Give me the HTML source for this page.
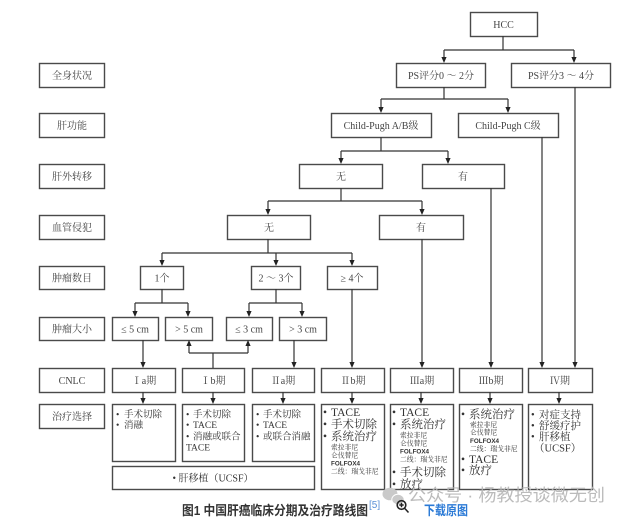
<!DOCTYPE html>
<html><head><meta charset="utf-8"><style>
html,body{margin:0;padding:0;background:#fff;}
svg{display:block;}
.n{font-family:"Liberation Serif","Noto Serif CJK SC",serif;font-size:10px;fill:#444;text-anchor:middle;}
.t{font-family:"Liberation Serif","Noto Serif CJK SC",serif;fill:#333;}
.s{font-family:"Liberation Serif","Noto Serif CJK SC",serif;font-size:6.8px;fill:#333;}
.f{font-family:"Liberation Sans",sans-serif;font-size:6.3px;font-weight:bold;fill:#333;}
</style></head><body>
<svg width="626" height="518" viewBox="0 0 626 518" xmlns="http://www.w3.org/2000/svg">
<rect width="626" height="518" fill="#fff"/>
<g fill="#fff" stroke="#4a4a4a" stroke-width="1.4">
<rect x="39.5" y="63.5" width="65" height="24"/>
<rect x="39.5" y="113.5" width="65" height="24"/>
<rect x="39.5" y="164.5" width="65" height="24"/>
<rect x="39.5" y="215.5" width="65" height="24"/>
<rect x="39.5" y="266.5" width="65" height="23"/>
<rect x="39.5" y="317.5" width="65" height="23"/>
<rect x="39.5" y="368.5" width="65" height="24"/>
<rect x="39.5" y="404.5" width="65" height="24"/>
<rect x="470.5" y="12.5" width="67" height="24"/>
<rect x="396.5" y="63.5" width="89" height="24"/>
<rect x="511.5" y="63.5" width="99" height="24"/>
<rect x="331.5" y="113.5" width="100" height="24"/>
<rect x="458.5" y="113.5" width="100" height="24"/>
<rect x="299.5" y="164.5" width="83" height="24"/>
<rect x="422.5" y="164.5" width="82" height="24"/>
<rect x="227.5" y="215.5" width="83" height="24"/>
<rect x="379.5" y="215.5" width="84" height="24"/>
<rect x="140.5" y="266.5" width="43" height="23"/>
<rect x="251.5" y="266.5" width="49" height="23"/>
<rect x="327.5" y="266.5" width="50" height="23"/>
<rect x="112.5" y="317.5" width="46" height="23"/>
<rect x="165.5" y="317.5" width="47" height="23"/>
<rect x="226.5" y="317.5" width="46" height="23"/>
<rect x="279.5" y="317.5" width="47" height="23"/>
<rect x="112.5" y="368.5" width="63" height="24"/>
<rect x="182.5" y="368.5" width="62" height="24"/>
<rect x="252.5" y="368.5" width="62" height="24"/>
<rect x="321.5" y="368.5" width="63" height="24"/>
<rect x="390.5" y="368.5" width="63" height="24"/>
<rect x="459.5" y="368.5" width="63" height="24"/>
<rect x="528.5" y="368.5" width="64" height="24"/>
<rect x="112.5" y="404.5" width="63" height="57"/>
<rect x="182.5" y="404.5" width="62" height="57"/>
<rect x="252.5" y="404.5" width="62" height="57"/>
<rect x="321.5" y="404.5" width="63" height="85"/>
<rect x="390.5" y="404.5" width="63" height="85"/>
<rect x="459.5" y="404.5" width="63" height="85"/>
<rect x="528.5" y="404.5" width="64" height="85"/>
<rect x="112.5" y="466.5" width="202" height="23"/>
</g>
<path fill="none" stroke="#333" stroke-width="1.2" d="
M503 36V50 M444 50H574 M444 50V58 M574 50V58
M444 87V99 M381 99H508 M381 99V108 M508 99V108
M381 137V151 M341 151H448 M341 151V159 M448 151V159
M341 188V201 M268 201H422 M268 201V210 M422 201V210
M268 239V253 M162 253H352 M162 253V261 M276 253V261 M352 253V261
M162 289V303 M135 303H188 M135 303V312 M188 303V312
M276 289V303 M249 303H302 M249 303V312 M302 303V312
M352 289V363 M422 239V363 M491 188V363 M542 137V363 M575 87V363 M143 340V363 M294 340V363
M213 368V353 M189 353H248 M189 353V345 M248 353V345
M143 392V399 M213 392V399 M283 392V399 M352 392V399 M421 392V399 M490 392V399 M559 392V399"/>
<g fill="#222">
<polygon points="441.4,57 446.6,57 444,63"/>
<polygon points="571.4,57 576.6,57 574,63"/>
<polygon points="378.4,107 383.6,107 381,113"/>
<polygon points="505.4,107 510.6,107 508,113"/>
<polygon points="338.4,158 343.6,158 341,164"/>
<polygon points="445.4,158 450.6,158 448,164"/>
<polygon points="265.4,209 270.6,209 268,215"/>
<polygon points="419.4,209 424.6,209 422,215"/>
<polygon points="159.4,260 164.6,260 162,266"/>
<polygon points="273.4,260 278.6,260 276,266"/>
<polygon points="349.4,260 354.6,260 352,266"/>
<polygon points="132.4,311 137.6,311 135,317"/>
<polygon points="185.4,311 190.6,311 188,317"/>
<polygon points="246.4,311 251.6,311 249,317"/>
<polygon points="299.4,311 304.6,311 302,317"/>
<polygon points="140.4,362 145.6,362 143,368"/>
<polygon points="291.4,362 296.6,362 294,368"/>
<polygon points="349.4,362 354.6,362 352,368"/>
<polygon points="419.4,362 424.6,362 422,368"/>
<polygon points="488.4,362 493.6,362 491,368"/>
<polygon points="539.4,362 544.6,362 542,368"/>
<polygon points="572.4,362 577.6,362 575,368"/>
<polygon points="186.4,346 191.6,346 189,340"/>
<polygon points="245.4,346 250.6,346 248,340"/>
<polygon points="140.4,398 145.6,398 143,404"/>
<polygon points="210.4,398 215.6,398 213,404"/>
<polygon points="280.4,398 285.6,398 283,404"/>
<polygon points="349.4,398 354.6,398 352,404"/>
<polygon points="418.4,398 423.6,398 421,404"/>
<polygon points="487.4,398 492.6,398 490,404"/>
<polygon points="556.4,398 561.6,398 559,404"/>
</g>
<text class="n" x="72" y="79">全身状况</text>
<text class="n" x="72" y="129">肝功能</text>
<text class="n" x="72" y="180">肝外转移</text>
<text class="n" x="72" y="231">血管侵犯</text>
<text class="n" x="72" y="281.5">肿瘤数目</text>
<text class="n" x="72" y="332.5">肿瘤大小</text>
<text class="n" x="72" y="384">CNLC</text>
<text class="n" x="72" y="420">治疗选择</text>
<text class="n" x="503.5" y="28">HCC</text>
<text class="n" x="441" y="79">PS评分0 ～ 2分</text>
<text class="n" x="561" y="79">PS评分3 ～ 4分</text>
<text class="n" x="381" y="129">Child-Pugh A/B级</text>
<text class="n" x="508" y="129">Child-Pugh C级</text>
<text class="n" x="341" y="180">无</text>
<text class="n" x="463" y="180">有</text>
<text class="n" x="269" y="231">无</text>
<text class="n" x="421" y="231">有</text>
<text class="n" x="162" y="281.5">1个</text>
<text class="n" x="276" y="281.5">2 ～ 3个</text>
<text class="n" x="352" y="281.5">≥ 4个</text>
<text class="n" x="135" y="332.5">≤ 5 cm</text>
<text class="n" x="189" y="332.5">&gt; 5 cm</text>
<text class="n" x="249" y="332.5">≤ 3 cm</text>
<text class="n" x="303" y="332.5">&gt; 3 cm</text>
<text class="n" x="144" y="384">Ⅰa期</text>
<text class="n" x="213" y="384">Ⅰb期</text>
<text class="n" x="283" y="384">Ⅱa期</text>
<text class="n" x="353" y="384">Ⅱb期</text>
<text class="n" x="422" y="384">Ⅲa期</text>
<text class="n" x="491" y="384">Ⅲb期</text>
<text class="n" x="560" y="384">Ⅳ期</text>
<g class="t" font-size="9.5">
<text x="116" y="417.5">•</text><text x="124" y="417.5">手术切除</text>
<text x="116" y="428">•</text><text x="124" y="428">消融</text>
<text x="186" y="417.5">•</text><text x="193" y="417.5">手术切除</text>
<text x="186" y="428">•</text><text x="193" y="428">TACE</text>
<text x="186" y="439.5">•</text><text x="193" y="439.5">消融或联合</text>
<text x="186" y="450.5">TACE</text>
<text x="256" y="417.5">•</text><text x="263" y="417.5">手术切除</text>
<text x="256" y="428">•</text><text x="263" y="428">TACE</text>
<text x="256" y="439.5">•</text><text x="263" y="439.5">或联合消融</text>
</g>
<g class="t" font-size="11.5">
<text x="323" y="416">•</text><text x="331" y="416">TACE</text>
<text x="323" y="428">•</text><text x="331" y="428">手术切除</text>
<text x="323" y="440">•</text><text x="331" y="440">系统治疗</text>
</g>
<text class="s" x="331" y="449.5">索拉非尼</text>
<text class="s" x="331" y="457.5">仑伐替尼</text>
<text class="f" x="331" y="465.5">FOLFOX4</text>
<text class="s" x="331" y="473.5">二线：瑞戈非尼</text>
<g class="t" font-size="11.5">
<text x="392" y="416">•</text><text x="400" y="416">TACE</text>
<text x="392" y="428">•</text><text x="400" y="428">系统治疗</text>
<text x="392" y="476">•</text><text x="400" y="476">手术切除</text>
<text x="392" y="488">•</text><text x="400" y="488">放疗</text>
</g>
<text class="s" x="400" y="437.5">索拉非尼</text>
<text class="s" x="400" y="445.5">仑伐替尼</text>
<text class="f" x="400" y="453.5">FOLFOX4</text>
<text class="s" x="400" y="461.5">二线：瑞戈非尼</text>
<g class="t" font-size="11.5">
<text x="461" y="418">•</text><text x="469" y="418">系统治疗</text>
<text x="461" y="463">•</text><text x="469" y="463">TACE</text>
<text x="461" y="474">•</text><text x="469" y="474">放疗</text>
</g>
<text class="s" x="470" y="427">索拉非尼</text>
<text class="s" x="470" y="434.5">仑伐替尼</text>
<text class="f" x="470" y="443">FOLFOX4</text>
<text class="s" x="470" y="451">二线：瑞戈非尼</text>
<g class="t" font-size="10.5">
<text x="531" y="418">•</text><text x="539" y="418">对症支持</text>
<text x="531" y="429">•</text><text x="539" y="429">舒缓疗护</text>
<text x="531" y="440">•</text><text x="539" y="440">肝移植</text>
<text x="534" y="451.5">（UCSF）</text>
</g>
<text class="t" font-size="10" x="213" y="481.5" text-anchor="middle">• 肝移植（UCSF）</text>
<g fill="#c9c9c9">
<ellipse cx="390" cy="494" rx="7.5" ry="6.3"/>
<ellipse cx="398" cy="499.5" rx="6.2" ry="5.2" stroke="#fff" stroke-width="1"/>
</g>
<text x="408" y="501" font-family="'Liberation Sans','Noto Sans CJK SC',sans-serif" font-size="17" fill="#b4b4b4" fill-opacity="0.9" textLength="197" lengthAdjust="spacingAndGlyphs">公众号 · 杨教授谈微无创</text>
<text x="182" y="515" font-family="'Liberation Sans','Noto Sans CJK SC',sans-serif" font-size="13" font-weight="bold" fill="#333" textLength="186" lengthAdjust="spacingAndGlyphs">图1 中国肝癌临床分期及治疗路线图</text>
<text x="369" y="508" font-family="'Liberation Sans',sans-serif" font-size="10" fill="#5a8fd6">[5]</text>
<circle cx="401.5" cy="505" r="4.3" fill="none" stroke="#222" stroke-width="1.6"/>
<path d="M399.3 505H403.7M401.5 502.8V507.2M404.6 508.2L408.5 512.5" stroke="#222" stroke-width="1.5" fill="none"/>
<text x="424" y="515" font-family="'Liberation Sans','Noto Sans CJK SC',sans-serif" font-size="13" font-weight="bold" fill="#2b7ad6" textLength="44" lengthAdjust="spacingAndGlyphs">下载原图</text>
</svg>
</body></html>
